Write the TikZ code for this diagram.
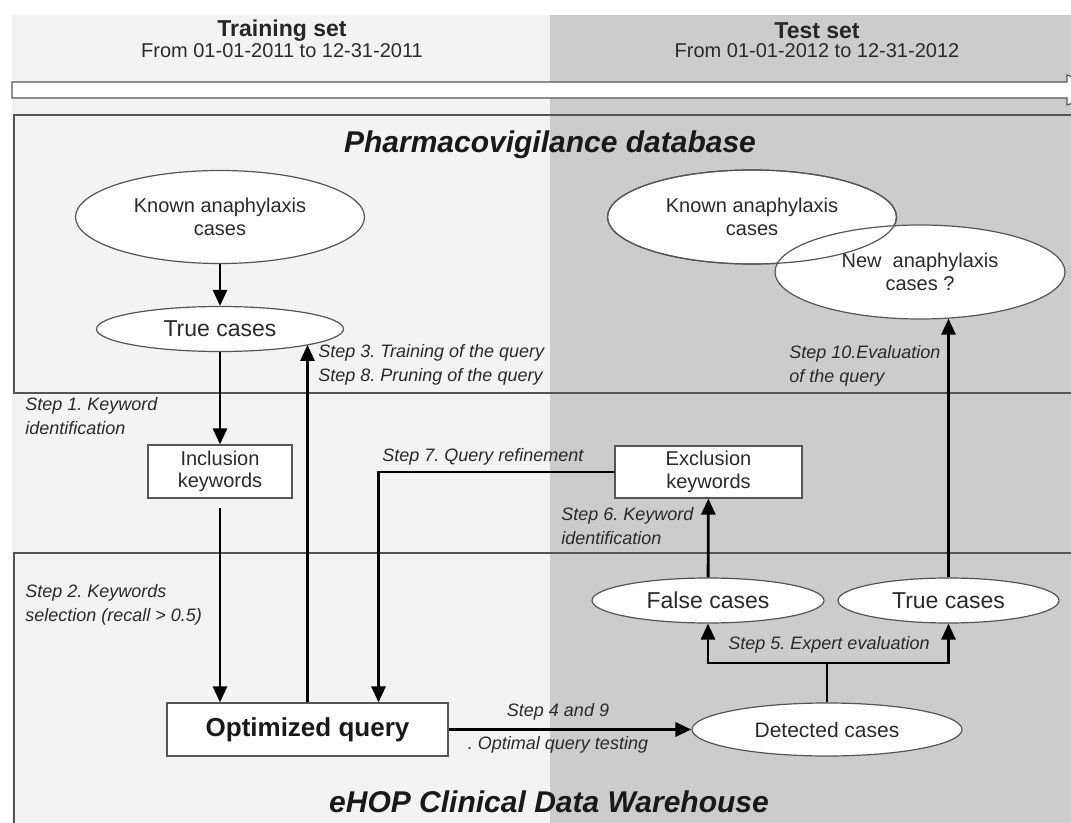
\documentclass[tikz,border=0pt]{standalone}
\usepackage{fontspec}
\setmainfont{Liberation Sans}
\usetikzlibrary{shapes.geometric,arrows.meta}
\definecolor{lightbg}{HTML}{F3F3F3}
\definecolor{darkbg}{HTML}{CCCCCC}
\definecolor{outline}{HTML}{555555}
\definecolor{labelgray}{HTML}{2A2A2A}
\frenchspacing

\begin{document}
\begin{tikzpicture}[x=0.5pt, y=-0.5pt,
    ell/.style={ellipse, draw=outline, line width=0.6pt, fill=white, inner sep=0pt, align=center, text=labelgray},
    kwbox/.style={rectangle, draw=outline, line width=0.6pt, fill=white, inner sep=0pt, align=center, text=labelgray},
    edge/.style={draw=outline, line width=0.6pt},
    arr/.style={line width=1.4pt, -{Triangle[length=8pt,width=7pt]}},
    lbl/.style={font=\fontsize{9}{12}\selectfont\itshape, text=labelgray, align=left, inner sep=0pt},
    title/.style={font=\fontsize{15}{18}\selectfont\bfseries\itshape, text=black!90}]
    \useasboundingbox (0,0) rectangle (1071,823);
    \clip (0,0) rectangle (1071,823);

    % training / test backgrounds
    \fill[lightbg] (12,15) rectangle (550,823);
    \fill[darkbg] (550,15) rectangle (1071,823);
    \node[font=\fontsize{11.5}{13}\selectfont\bfseries, text=black!85] (trn) at (282,31) {Training set};
    \node[font=\fontsize{10}{12}\selectfont, text=labelgray] (trndate) at (282,51) {From 01-01-2011 to 12-31-2011};
    \node[font=\fontsize{11.5}{13}\selectfont\bfseries, text=black!85] (tst) at (817,31) {Test set};
    \node[font=\fontsize{10}{12}\selectfont, text=labelgray] (tstdate) at (817,51) {From 01-01-2012 to 12-31-2012};

    % time line
    \filldraw[edge, fill=white] (12,82) -- (1067,82) -- (1067,75) -- (1110,90) -- (1067,105) -- (1067,98) -- (12,98) -- cycle;

    % the two sources
    \draw[edge] (1090,115) -- (14,115) -- (14,393) -- (1090,393);
    \draw[edge] (1090,553) -- (14,553) -- (14,840);
    \node[title] (pv) at (550,145) {Pharmacovigilance database};
    \node[title] (ehop) at (549,802) {eHOP Clinical Data Warehouse};

    % training side
    \node[ell, minimum width=144.5pt, minimum height=46.5pt, font=\fontsize{10}{11.5}\selectfont] (kl) at (220,217) {Known anaphylaxis\\cases};
    \node[ell, minimum width=123.5pt, minimum height=22.5pt, font=\fontsize{11.5}{13}\selectfont] (tl) at (220,329) {True cases};
    \node[kwbox, minimum width=72pt, minimum height=26.5pt, font=\fontsize{10}{11.3}\selectfont] (inc) at (220,471.5) {Inclusion\\keywords};
    \node[kwbox, minimum width=140.5pt, minimum height=26.5pt, font=\fontsize{13}{15}\selectfont\bfseries, text=black!90] (opt) at (307.5,729.5) {Optimized query};

    % test side
    \node[ell, minimum width=144.5pt, minimum height=47pt, font=\fontsize{10}{11.5}\selectfont] (kr) at (752,217) {Known anaphylaxis\\cases};
    \node[ell, minimum width=145pt, minimum height=47pt, font=\fontsize{10}{11.5}\selectfont] (nw) at (920,272) {New\ \ anaphylaxis\\cases ?};
    \draw[edge] (kr.center) ellipse (72.25pt and 23.5pt);
    \node[kwbox, minimum width=93.5pt, minimum height=26pt, font=\fontsize{10}{11.3}\selectfont] (exc) at (708.5,472) {Exclusion\\keywords};
    \node[ell, minimum width=116pt, minimum height=22.5pt, font=\fontsize{11.5}{13}\selectfont] (fc) at (708,600.5) {False cases};
    \node[ell, minimum width=110.5pt, minimum height=22.5pt, font=\fontsize{11.5}{13}\selectfont] (tr) at (948.5,600.5) {True cases};
    \node[ell, minimum width=135pt, minimum height=26.5pt, font=\fontsize{10.5}{12}\selectfont] (det) at (827,729.5) {Detected cases};

    % steps
    \draw[arr] (kl) -- (tl);
    \draw[arr] (tl) -- (inc);
    \draw[arr, shorten <=4.5pt] (inc.south) -- (inc.south |- opt.north);
    \draw[arr] (opt.north) -- (opt.north |- tl.-10);
    \draw[arr] (exc.west) -| ([xshift=35.5pt]opt.north);
    \draw[arr, line width=1.6pt] (opt) -- (det);
    \coordinate (fork) at (det.north |- 0,663);
    \draw[line width=1.4pt] (det.north) -- (fork);
    \draw[arr] (fork) -| (fc.south);
    \draw[arr] (fork) -| (tr.south);
    \draw[arr] (fc) -- (exc);
    \draw[arr] (tr.north) -- (tr.north |- nw.-58);

    \node[lbl, anchor=west] (s1) at (25,416.5) {Step 1. Keyword\\identification};
    \node[lbl, anchor=west] (s2) at (25,604.5) {Step 2. Keywords\\selection (recall > 0.5)};
    \node[lbl, anchor=west] (s3) at (318,365) {Step 3. Training of the query\\Step 8. Pruning of the query};
    \node[lbl, anchor=west] (s10) at (789,366) {Step 10.Evaluation\\of the query};
    \node[lbl, anchor=west] (s7) at (382,457) {Step 7. Query refinement};
    \node[lbl, anchor=west] (s6) at (561,526.5) {Step 6. Keyword\\identification};
    \node[lbl] (s5) at (829,645) {Step 5. Expert evaluation};
    \node[lbl] (s4) at (558,712) {Step 4 and 9};
    \node[lbl] (s9) at (558,745) {. Optimal query testing};
\end{tikzpicture}
\end{document}
